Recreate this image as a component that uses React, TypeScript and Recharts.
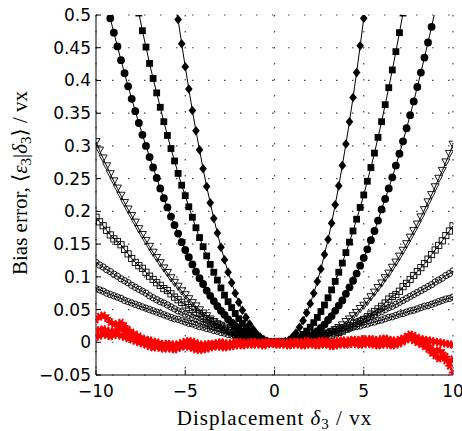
import React from 'react';
import { LineChart, Line, XAxis, YAxis, CartesianGrid } from 'recharts';

// displacement grid, -10 .. 10 vx in 0.2 steps
const xs = [
  -10, -9.8, -9.6, -9.4, -9.2, -9, -8.8, -8.6, -8.4, -8.2,
  -8, -7.8, -7.6, -7.4, -7.2, -7, -6.8, -6.6, -6.4, -6.2,
  -6, -5.8, -5.6, -5.4, -5.2, -5, -4.8, -4.6, -4.4, -4.2,
  -4, -3.8, -3.6, -3.4, -3.2, -3, -2.8, -2.6, -2.4, -2.2,
  -2, -1.8, -1.6, -1.4, -1.2, -1, -0.8, -0.6, -0.4, -0.2,
  0,
  0.2, 0.4, 0.6, 0.8, 1, 1.2, 1.4, 1.6, 1.8, 2,
  2.2, 2.4, 2.6, 2.8, 3, 3.2, 3.4, 3.6, 3.8, 4,
  4.2, 4.4, 4.6, 4.8, 5, 5.2, 5.4, 5.6, 5.8, 6,
  6.2, 6.4, 6.6, 6.8, 7, 7.2, 7.4, 7.6, 7.8, 8,
  8.2, 8.4, 8.6, 8.8, 9, 9.2, 9.4, 9.6, 9.8, 10,
];

// black series (filled diamond, filled square, filled circle, open triangle, open markers)
const diamondBias: (number | null)[] = [
  null, null, null, null, null, null, null, null, null, null,
  null, null, null, null, null, null, null, null, null, null,
  null, null, 0.532, 0.493, 0.456, 0.421, 0.387, 0.354, 0.323, 0.294,
  0.265, 0.238, 0.213, 0.189, 0.167, 0.145, 0.126, 0.107, 0.091, 0.075,
  0.061, 0.049, 0.038, 0.028, 0.02, 0.013, 0.008, 0.004, 0.001, 0,
  0,
  0, 0, 0.001, 0.003, 0.008, 0.014, 0.023, 0.033, 0.045, 0.059,
  0.075, 0.093, 0.112, 0.134, 0.157, 0.182, 0.21, 0.239, 0.27, 0.303,
  0.337, 0.374, 0.412, 0.453, 0.495, 0.539, null, null, null, null,
  null, null, null, null, null, null, null, null, null, null,
  null, null, null, null, null, null, null, null, null, null,
];

const squareBias: (number | null)[] = [
  null, null, null, null, null, null, null, null, null, null,
  null, null, 0.503, 0.476, 0.451, 0.426, 0.403, 0.381, 0.359, 0.337,
  0.316, 0.296, 0.277, 0.258, 0.24, 0.224, 0.207, 0.191, 0.175, 0.16,
  0.146, 0.132, 0.119, 0.107, 0.095, 0.083, 0.072, 0.062, 0.053, 0.044,
  0.036, 0.029, 0.022, 0.017, 0.012, 0.008, 0.005, 0.003, 0.001, 0,
  0,
  0, 0, 0, 0.001, 0.002, 0.005, 0.008, 0.012, 0.017, 0.023,
  0.03, 0.038, 0.047, 0.057, 0.068, 0.08, 0.093, 0.107, 0.121, 0.137,
  0.153, 0.17, 0.188, 0.206, 0.225, 0.246, 0.267, 0.289, 0.313, 0.337,
  0.363, 0.389, 0.416, 0.444, 0.473, 0.503, null, null, null, null,
  null, null, null, null, null, null, null, null, null, null,
];

const circleBias: (number | null)[] = [
  null, null, null, 0.517, 0.495, 0.473, 0.452, 0.431, 0.411, 0.391,
  0.372, 0.353, 0.335, 0.317, 0.3, 0.283, 0.267, 0.251, 0.235, 0.22,
  0.206, 0.192, 0.179, 0.166, 0.153, 0.141, 0.13, 0.119, 0.108, 0.098,
  0.089, 0.079, 0.071, 0.063, 0.055, 0.048, 0.042, 0.035, 0.03, 0.025,
  0.02, 0.016, 0.012, 0.009, 0.006, 0.004, 0.002, 0.001, 0, 0,
  0,
  0, 0, 0, 0, 0, 0.001, 0.002, 0.004, 0.006, 0.009,
  0.013, 0.017, 0.022, 0.027, 0.034, 0.04, 0.048, 0.056, 0.064, 0.074,
  0.084, 0.094, 0.105, 0.117, 0.129, 0.142, 0.156, 0.17, 0.186, 0.203,
  0.219, 0.235, 0.252, 0.27, 0.288, 0.307, 0.327, 0.347, 0.368, 0.39,
  0.412, 0.435, 0.458, 0.482, 0.507, null, null, null, null, null,
];

const triangleBias = [
  0.306, 0.293, 0.281, 0.269, 0.257, 0.246, 0.235, 0.224, 0.213, 0.203,
  0.193, 0.183, 0.173, 0.164, 0.155, 0.146, 0.137, 0.129, 0.121, 0.113,
  0.106, 0.098, 0.091, 0.085, 0.078, 0.072, 0.066, 0.06, 0.055, 0.049,
  0.044, 0.04, 0.035, 0.031, 0.027, 0.024, 0.02, 0.017, 0.014, 0.012,
  0.009, 0.007, 0.005, 0.004, 0.003, 0.002, 0.001, 0, 0, 0,
  0,
  0, 0, 0, 0, 0, 0, 0, 0.001, 0.001, 0.002,
  0.004, 0.006, 0.008, 0.01, 0.013, 0.016, 0.019, 0.022, 0.026, 0.031,
  0.035, 0.04, 0.045, 0.051, 0.056, 0.062, 0.069, 0.076, 0.083, 0.09,
  0.098, 0.105, 0.114, 0.122, 0.131, 0.14, 0.15, 0.16, 0.17, 0.18,
  0.191, 0.202, 0.214, 0.225, 0.237, 0.25, 0.262, 0.275, 0.288, 0.302,
];

const openSquareBias = [
  0.191, 0.184, 0.178, 0.171, 0.164, 0.158, 0.154, 0.149, 0.142, 0.135,
  0.128, 0.122, 0.117, 0.113, 0.107, 0.101, 0.096, 0.091, 0.087, 0.082,
  0.079, 0.074, 0.069, 0.065, 0.061, 0.057, 0.053, 0.05, 0.046, 0.044,
  0.04, 0.036, 0.033, 0.031, 0.028, 0.026, 0.023, 0.02, 0.018, 0.016,
  0.012, 0.01, 0.008, 0.006, 0.004, 0.003, 0.002, 0.001, 0, 0,
  0,
  0, 0, 0, 0, 0, 0, 0, 0.001, 0.001, 0.002,
  0.003, 0.004, 0.006, 0.007, 0.009, 0.011, 0.013, 0.015, 0.017, 0.02,
  0.023, 0.025, 0.029, 0.032, 0.035, 0.039, 0.043, 0.047, 0.051, 0.055,
  0.06, 0.066, 0.07, 0.073, 0.078, 0.085, 0.09, 0.096, 0.102, 0.108,
  0.114, 0.12, 0.127, 0.134, 0.141, 0.148, 0.155, 0.163, 0.17, 0.178,
];

const openCircleBias = [
  0.122, 0.118, 0.115, 0.111, 0.108, 0.104, 0.101, 0.097, 0.094, 0.091,
  0.087, 0.084, 0.081, 0.078, 0.075, 0.071, 0.068, 0.065, 0.062, 0.06,
  0.057, 0.054, 0.051, 0.048, 0.046, 0.043, 0.041, 0.038, 0.036, 0.033,
  0.031, 0.029, 0.026, 0.024, 0.022, 0.02, 0.018, 0.016, 0.014, 0.012,
  0.01, 0.008, 0.006, 0.005, 0.003, 0.002, 0.001, 0.001, 0, 0,
  0,
  0, 0, 0.001, 0.001, 0.002, 0.002, 0.003, 0.004, 0.006, 0.007,
  0.009, 0.011, 0.012, 0.014, 0.015, 0.017, 0.019, 0.021, 0.022, 0.024,
  0.026, 0.029, 0.031, 0.033, 0.035, 0.037, 0.04, 0.042, 0.045, 0.047,
  0.05, 0.053, 0.055, 0.058, 0.061, 0.064, 0.067, 0.07, 0.073, 0.076,
  0.079, 0.082, 0.085, 0.088, 0.092, 0.095, 0.098, 0.102, 0.105, 0.109,
];

const openHexBias = [
  0.082, 0.08, 0.078, 0.075, 0.073, 0.071, 0.069, 0.067, 0.064, 0.062,
  0.06, 0.058, 0.056, 0.054, 0.052, 0.05, 0.048, 0.046, 0.044, 0.042,
  0.04, 0.038, 0.036, 0.035, 0.033, 0.031, 0.029, 0.028, 0.026, 0.024,
  0.023, 0.021, 0.02, 0.018, 0.017, 0.015, 0.014, 0.012, 0.011, 0.01,
  0.008, 0.007, 0.005, 0.004, 0.003, 0.002, 0.001, 0.001, 0, 0,
  0,
  0, 0, 0.001, 0.001, 0.002, 0.003, 0.004, 0.005, 0.006, 0.007,
  0.009, 0.01, 0.011, 0.012, 0.013, 0.015, 0.016, 0.017, 0.018, 0.02,
  0.021, 0.023, 0.024, 0.025, 0.027, 0.028, 0.03, 0.031, 0.033, 0.034,
  0.036, 0.038, 0.039, 0.041, 0.043, 0.044, 0.046, 0.048, 0.049, 0.051,
  0.053, 0.055, 0.056, 0.058, 0.06, 0.062, 0.064, 0.066, 0.067, 0.069,
];

// red series (corrected estimator)
const redA = [
  0.035, 0.039, 0.041, 0.037, 0.031, 0.028, 0.027, 0.03, 0.025, 0.019,
  0.015, 0.012, 0.009, 0.006, 0.004, 0.003, 0.001, 0, -0.002, -0.003,
  -0.002, -0.003, -0.004, -0.003, -0.001, 0.001, 0.002, 0.001, -0.001, -0.003,
  -0.004, -0.003, -0.002, -0.002, -0.001, 0, -0.001, -0.002, -0.001, 0,
  0.001, 0, -0.001, 0, 0.001, 0, -0.001, 0, 0.001, 0,
  0,
  0.001, 0, -0.001, 0, 0.001, 0.001, 0, 0.001, 0.002, 0.001,
  0, 0.001, 0.002, 0.002, 0.001, 0, 0.001, 0.002, 0.003, 0.002,
  0.003, 0.004, 0.003, 0.004, 0.005, 0.004, 0.005, 0.004, 0.003, 0.005,
  0.006, 0.004, 0.003, 0.002, 0.004, 0.006, 0.009, 0.012, 0.01, 0.007,
  0.005, 0.004, 0.003, 0.002, 0.001, 0, -0.001, -0.002, -0.003, -0.004,
];

const redB = [
  0.017, 0.019, 0.02, 0.018, 0.016, 0.017, 0.019, 0.021, 0.017, 0.013,
  0.01, 0.007, 0.005, 0.002, 0, -0.002, -0.004, -0.005, -0.006, -0.005,
  -0.006, -0.007, -0.008, -0.007, -0.005, -0.003, -0.002, -0.004, -0.006, -0.008,
  -0.009, -0.008, -0.006, -0.005, -0.004, -0.003, -0.004, -0.005, -0.004, -0.003,
  -0.002, -0.003, -0.002, -0.001, -0.002, -0.001, -0.002, -0.003, -0.001, 0,
  -0.001,
  -0.002, -0.001, -0.002, -0.003, -0.002, -0.001, -0.002, -0.003, -0.002, -0.001,
  -0.002, -0.003, -0.002, -0.001, -0.002, -0.004, -0.003, -0.001, 0, -0.001,
  0, 0.001, 0, -0.001, 0, 0.001, 0, -0.001, -0.002, -0.001,
  0, -0.001, -0.003, -0.002, 0, 0.003, 0.006, 0.008, 0.005, 0.002,
  0, -0.002, -0.005, -0.01, -0.014, -0.012, -0.016, -0.022, -0.03, -0.026,
];

const redC = [
  0.008, 0.01, 0.012, 0.011, 0.009, 0.011, 0.012, 0.01, 0.008, 0.006,
  0.004, 0.002, 0, -0.002, -0.004, -0.006, -0.008, -0.007, -0.009, -0.01,
  -0.009, -0.01, -0.011, -0.009, -0.007, -0.006, -0.007, -0.009, -0.011, -0.012,
  -0.011, -0.01, -0.008, -0.007, -0.006, -0.007, -0.008, -0.007, -0.006, -0.005,
  -0.004, -0.005, -0.004, -0.003, -0.004, -0.003, -0.004, -0.005, -0.003, -0.002,
  -0.003,
  -0.004, -0.003, -0.004, -0.005, -0.004, -0.003, -0.004, -0.005, -0.004, -0.003,
  -0.004, -0.005, -0.004, -0.003, -0.004, -0.006, -0.005, -0.004, -0.003, -0.004,
  -0.003, -0.002, -0.003, -0.004, -0.003, -0.002, -0.003, -0.004, -0.005, -0.004,
  -0.003, -0.004, -0.005, -0.004, -0.002, 0.001, 0.004, 0.006, 0.003, 0,
  -0.003, -0.006, -0.01, -0.016, -0.02, -0.025, -0.022, -0.028, -0.036, -0.046,
];

const xTicks = [-10, -5, 0, 5, 10];
const yTicks = [-0.05, 0, 0.05, 0.1, 0.15, 0.2, 0.25, 0.3, 0.35, 0.4, 0.45, 0.5];

const rows = xs.map((x, i) => ({
  x,
  dia: diamondBias[i],
  sq: squareBias[i],
  circ: circleBias[i],
  tri: triangleBias[i],
  osq: openSquareBias[i],
  ocirc: openCircleBias[i],
  ohex: openHexBias[i],
  ra: redA[i],
  rb: redB[i],
  rc: redC[i],
}));

type MarkerProps = { cx?: number; cy?: number; index?: number; value?: unknown };

function marker(id: string, draw: (x: number, y: number) => React.ReactNode) {
  return (p: MarkerProps) => {
    const key = `${id}-${p.index}`;
    if (p.value == null || p.cx == null || p.cy == null || Number.isNaN(p.cy)) return <g key={key} />;
    return <g key={key}>{draw(p.cx, p.cy)}</g>;
  };
}

const diamondDot = marker('dia', (x, y) => (
  <path d={`M${x},${y - 4.8}L${x + 3.8},${y}L${x},${y + 4.8}L${x - 3.8},${y}Z`} fill="#000" />
));
const squareDot = marker('sq', (x, y) => <rect x={x - 3.4} y={y - 3.4} width={6.8} height={6.8} fill="#000" />);
const circleDot = marker('circ', (x, y) => <circle cx={x} cy={y} r={3.9} fill="#000" />);
const triangleDot = marker('tri', (x, y) => (
  <path d={`M${x - 4},${y - 3.4}L${x + 4},${y - 3.4}L${x},${y + 3.8}Z`} fill="none" stroke="#000" strokeWidth={0.9} />
));
const openSquareDot = marker('osq', (x, y) => (
  <rect x={x - 3.1} y={y - 3.1} width={6.2} height={6.2} fill="none" stroke="#000" strokeWidth={0.9} />
));
const openCircleDot = marker('ocirc', (x, y) => (
  <circle cx={x} cy={y} r={3.2} fill="none" stroke="#000" strokeWidth={0.9} />
));
const openHexDot = marker('ohex', (x, y) => (
  <circle cx={x} cy={y} r={3.2} fill="none" stroke="#000" strokeWidth={0.9} />
));
const starDot = (id: string) =>
  marker(id, (x, y) => (
    <path
      d={`M${x - 4.2},${y}L${x + 4.2},${y}M${x - 2.1},${y - 3.7}L${x + 2.1},${y + 3.7}M${x - 2.1},${y + 3.7}L${x + 2.1},${y - 3.7}`}
      stroke="#ff0000"
      strokeWidth={2}
    />
  ));

const fmtTick = (v: number) => (v < 0 ? '\u2212' + String(-v) : String(v));

const serif = '"Liberation Serif", "DejaVu Serif", serif';

const XTitle = () => (
  <text x={274.5} y={425} textAnchor="middle" fontFamily={serif} fontSize={21} letterSpacing={1} fill="#000">
    Displacement <tspan fontStyle="italic">δ</tspan>
    <tspan fontSize={15} dy={4}>3</tspan>
    <tspan dy={-4}> / vx</tspan>
  </text>
);

const YTitle = () => (
  <text
    transform="rotate(-90)"
    x={-183}
    y={27}
    textAnchor="middle"
    fontFamily={serif}
    fontSize={21}
    fill="#000"
  >
    Bias error, ⟨<tspan fontStyle="italic">ε</tspan>
    <tspan fontSize={15} dy={4}>3</tspan>
    <tspan dy={-4}>|</tspan>
    <tspan fontStyle="italic">δ</tspan>
    <tspan fontSize={15} dy={4}>3</tspan>
    <tspan dy={-4}>⟩ / vx</tspan>
  </text>
);

const tickStyle = { fontSize: 17, fontFamily: '"DejaVu Sans", sans-serif', fill: '#000' };

export default function App() {
  const blackLine = { stroke: '#000', strokeWidth: 1, activeDot: false, isAnimationActive: false, type: 'linear' as const };
  const redLine = { stroke: '#ff0000', strokeWidth: 2, activeDot: false, isAnimationActive: false, type: 'linear' as const };
  return (
    <div style={{ position: 'absolute', left: 0, top: 0, background: '#fff' }}>
      <LineChart width={462} height={431} data={rows} margin={{ top: 15, right: 9, bottom: 0, left: 0 }}>
        <CartesianGrid stroke="#444" strokeDasharray="1.5 14.5" strokeWidth={1.2} />
        <XAxis
          dataKey="x"
          type="number"
          domain={[-10, 10]}
          ticks={xTicks}
          allowDataOverflow
          height={56}
          tickSize={-5}
          tickMargin={15}
          tickFormatter={fmtTick}
          tick={tickStyle}
          stroke="#000"
          label={XTitle}
        />
        <XAxis
          xAxisId="top"
          orientation="top"
          type="number"
          domain={[-10, 10]}
          ticks={xTicks}
          allowDataOverflow
          height={0}
          tickSize={-5}
          tickFormatter={() => ''}
          stroke="#000"
        />
        <YAxis
          type="number"
          domain={[-0.05, 0.5]}
          ticks={yTicks}
          allowDataOverflow
          width={96}
          tickSize={-5}
          tickMargin={10}
          tickFormatter={fmtTick}
          tick={tickStyle}
          stroke="#000"
          label={YTitle}
        />
        <YAxis
          yAxisId="right"
          orientation="right"
          type="number"
          domain={[-0.05, 0.5]}
          ticks={yTicks}
          allowDataOverflow
          width={0}
          tickSize={-5}
          tickFormatter={() => ''}
          stroke="#000"
        />
        <Line dataKey="ohex" dot={openHexDot} {...blackLine} />
        <Line dataKey="ocirc" dot={openCircleDot} {...blackLine} />
        <Line dataKey="osq" dot={openSquareDot} {...blackLine} />
        <Line dataKey="tri" dot={triangleDot} {...blackLine} />
        <Line dataKey="circ" dot={circleDot} {...blackLine} />
        <Line dataKey="sq" dot={squareDot} {...blackLine} />
        <Line dataKey="dia" dot={diamondDot} {...blackLine} />
        <Line dataKey="rc" dot={starDot('rc')} {...redLine} />
        <Line dataKey="rb" dot={starDot('rb')} {...redLine} />
        <Line dataKey="ra" dot={starDot('ra')} {...redLine} />
      </LineChart>
    </div>
  );
}
